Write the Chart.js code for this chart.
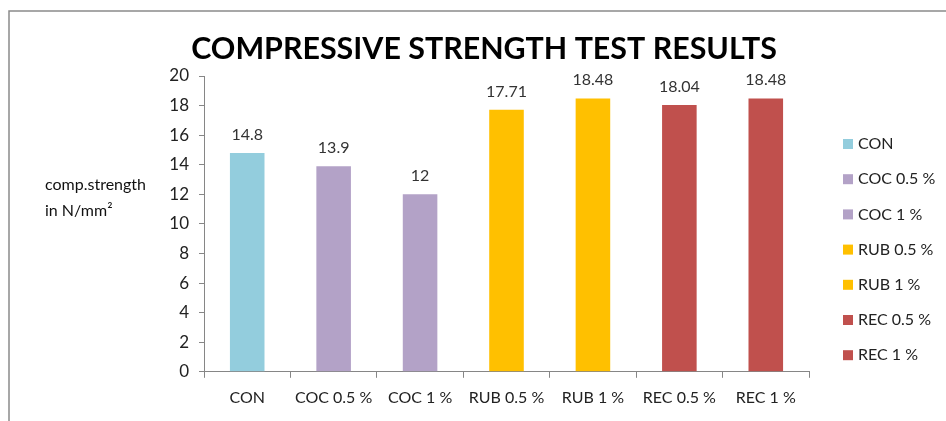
<!DOCTYPE html>
<html lang="en">
  <head>
    <meta charset="UTF-8" />
    <title>Compressive Strength Test Results</title>
    <script src="https://cdn.jsdelivr.net/npm/chart.js"></script>
    <style>
      body { margin: 0; background: #fff; }
      #wrap { width: 946px; height: 421px; }
    </style>
  </head>
  <body>
    <div id="wrap"><canvas id="strengthChart" width="946" height="421"></canvas></div>

    <script>
      const categories = ["CON", "COC 0.5 %", "COC 1 %", "RUB 0.5 %", "RUB 1 %", "REC 0.5 %", "REC 1 %"];
      const strengths = [14.8, 13.9, 12, 17.71, 18.48, 18.04, 18.48];
      const barColors = ["#93CDDD", "#B3A2C7", "#B3A2C7", "#FFC000", "#FFC000", "#C0504D", "#C0504D"];
      const yTicks = [0, 2, 4, 6, 8, 10, 12, 14, 16, 18, 20];

      const FONT = "Lato, 'Open Sans', sans-serif";

      // title, axis caption, value labels, legend and frame
      const extras = {
        id: "extras",
        afterDraw(chart) {
          const ctx = chart.ctx;
          ctx.save();

          ctx.strokeStyle = "#8a8a8a";
          ctx.lineWidth = 1.5;
          ctx.beginPath();
          ctx.moveTo(9, 430);
          ctx.lineTo(9, 11);
          ctx.lineTo(950, 11);
          ctx.stroke();

          ctx.fillStyle = "#000";
          ctx.textAlign = "center";
          ctx.textBaseline = "middle";
          ctx.font = "bold 30.4px " + FONT;
          ctx.fillText("COMPRESSIVE STRENGTH TEST RESULTS", 484, 49);

          ctx.textAlign = "left";
          ctx.fillStyle = "#111";
          ctx.font = "16px " + FONT;
          ctx.fillText("comp.strength", 45, 185);
          ctx.fillText("in N/mm²", 45, 211);

          const meta = chart.getDatasetMeta(0);
          ctx.textAlign = "center";
          ctx.textBaseline = "alphabetic";
          ctx.fillStyle = "#333";
          meta.data.forEach((bar, i) => {
            ctx.fillText(String(strengths[i]), bar.x, bar.y - 13);
          });

          ctx.textBaseline = "middle";
          ctx.textAlign = "left";
          categories.forEach((name, i) => {
            const y = 144 + i * 35.2;
            ctx.fillStyle = barColors[i];
            ctx.fillRect(843, y - 5, 10, 10);
            ctx.fillStyle = "#222";
            ctx.fillText(name, 858, y);
          });

          ctx.restore();
        },
      };

      const ctx = document.getElementById("strengthChart").getContext("2d");
      new Chart(ctx, {
        type: "bar",
        data: {
          labels: categories,
          datasets: [
            {
              label: "Compressive strength",
              data: strengths,
              backgroundColor: barColors,
              categoryPercentage: 1,
              barPercentage: 0.4,
            },
          ],
        },
        options: {
          responsive: false,
          animation: false,
          layout: { padding: { top: 76, right: 137, bottom: 4, left: 0 } },
          plugins: {
            legend: { display: false },
            tooltip: { enabled: false },
          },
          scales: {
            x: {
              grid: { drawOnChartArea: false, color: "#868686", tickLength: 6 },
              border: { color: "#868686" },
              ticks: { color: "#222", font: { family: FONT, size: 16 }, padding: 10 },
            },
            y: {
              min: 0,
              max: 20,
              afterFit(scale) { scale.width = 204; },
              afterBuildTicks(scale) { scale.ticks = yTicks.map((v) => ({ value: v })); },
              grid: { drawOnChartArea: false, color: "#868686", tickLength: 5 },
              border: { color: "#868686" },
              ticks: { color: "#222", font: { family: FONT, size: 17 }, padding: 10 },
            },
          },
        },
        plugins: [extras],
      });
    </script>
  </body>
</html>
